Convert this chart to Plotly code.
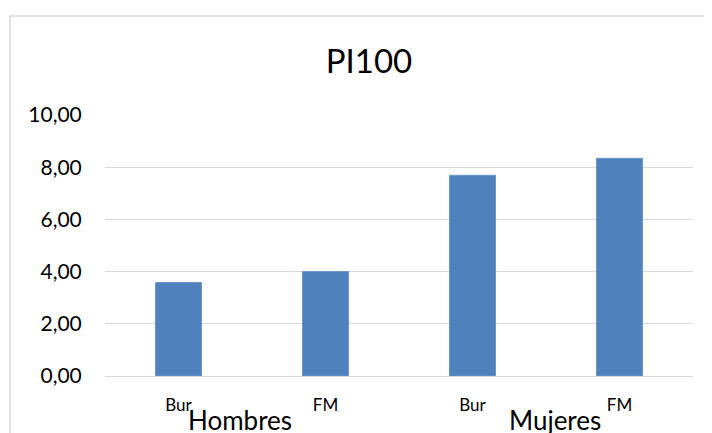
import plotly.graph_objects as go

# PI100 por sexo y grupo
subgrupos = ["Bur", "FM", "Bur", "FM"]
grupos = ["Hombres", "Mujeres"]
valores = [3.58, 4.00, 7.69, 8.34]
ticks_y = [0, 2, 4, 6, 8, 10]
ticks_y_txt = ["0,00", "2,00", "4,00", "6,00", "8,00", "10,00"]

FONT = "Lato, Calibri, Carlito, sans-serif"
posiciones = list(range(len(subgrupos)))

fig = go.Figure()
fig.add_trace(go.Bar(
    x=posiciones,
    y=valores,
    marker=dict(color="#4F81BD", line=dict(color="#6A96CC", width=1)),
    showlegend=False,
))

# etiquetas de grupo (eje de categorías de dos niveles)
centros = [(posiciones[0] + posiciones[1]) / 2 - 0.08,
           (posiciones[2] + posiciones[3]) / 2 + 0.06]
for nombre, cx in zip(grupos, centros):
    fig.add_annotation(
        x=cx, y=-0.17, xref="x", yref="paper",
        text=nombre, showarrow=False,
        font=dict(family=FONT, size=26, color="#000000"),
        xanchor="center", yanchor="middle",
    )

# borde del área del gráfico (se sale por la derecha y por abajo)
fig.add_shape(
    type="rect", xref="paper", yref="paper",
    x0=-95 / 588.5, x1=1.2, y0=-0.5, y1=1 + (106.5 - 7) / 262,
    line=dict(color="#D9D9D9", width=1.5), fillcolor="rgba(0,0,0,0)",
    layer="below",
)

fig.update_layout(
    width=712, height=433,
    margin=dict(l=97, r=26.5, t=106.5, b=64.5),
    paper_bgcolor="white", plot_bgcolor="white",
    bargap=0.687,
    font=dict(family=FONT, color="#000000"),
    title=dict(
        text="PI100", x=361 / 712, xanchor="center",
        y=1 - 53 / 433, yanchor="middle", yref="container",
        font=dict(family=FONT, size=33, color="#000000"),
    ),
    xaxis=dict(
        tickmode="array", tickvals=posiciones, ticktext=subgrupos,
        range=[-0.5, 3.5], showgrid=False, zeroline=False,
        showline=True, linecolor="#D9D9D9", linewidth=1,
        ticks="outside", ticklen=14, tickcolor="rgba(0,0,0,0)",
        tickfont=dict(family=FONT, size=17, color="#000000"),
    ),
    yaxis=dict(
        tickmode="array", tickvals=ticks_y, ticktext=ticks_y_txt,
        range=[0, 10], showgrid=True, gridcolor="#D9D9D9", gridwidth=1,
        zeroline=False, showline=False,
        ticks="outside", ticklen=18, tickcolor="rgba(0,0,0,0)",
        tickfont=dict(family=FONT, size=21, color="#000000"),
    ),
)

fig.write_html("out.html")
